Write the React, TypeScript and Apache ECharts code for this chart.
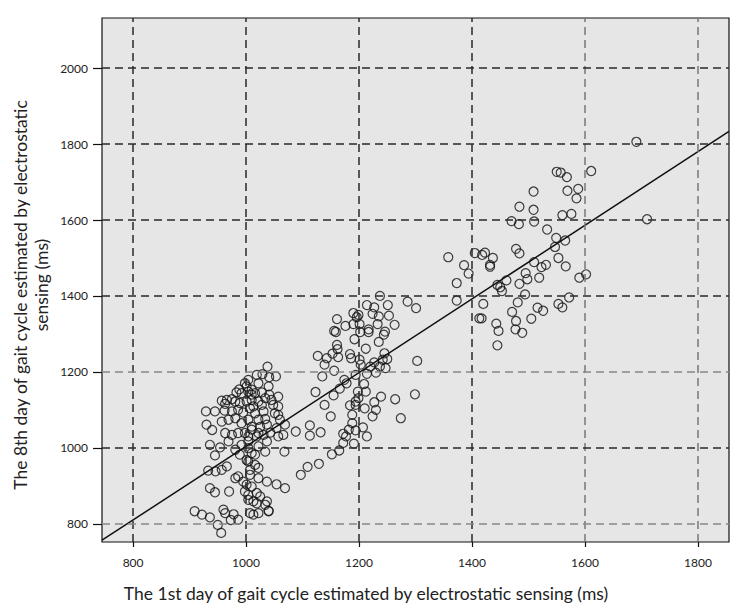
import React, { useEffect, useRef } from "react";
import * as echarts from "echarts";

const xTicks = [800, 1000, 1200, 1400, 1600, 1800];
const yTicks = [800, 1000, 1200, 1400, 1600, 1800, 2000];
const xRange = [745, 1855];
const yRange = [752, 2132];
const fitIntercept = 34;
const fitSlope = 0.97;

const leftCluster = [
  [1004,1179],[998,1170],[988,1154],[983,1146],[992,1144],[1004,1148],[1010,1140],[957,1124],[966,1126],[975,1128],
  [963,1116],[981,1122],[989,1118],[1001,1122],[929,1096],[945,1096],[962,1098],[975,1096],[986,1100],[995,1093],
  [1007,1104],[930,1061],[940,1047],[957,1069],[969,1074],[981,1078],[992,1065],[1004,1074],[963,1039],[975,1034],
  [986,1039],[998,1039],[1010,1048],
  [936,1008],[954,1001],[945,980],[969,1017],[981,995],[992,1008],[1004,1017],[1010,986],[989,982],[1001,968],
  [966,951],[957,942],[933,940],[946,938],[986,925],[981,920],[995,911],[1007,929],[936,894],[945,883],[970,885],
  [998,885],[1004,876],[1010,898],[909,833],[922,824],[936,817],[950,797],[956,776],[960,837],[963,828],[978,825],
  [986,811],[973,810],[1007,828],[1013,824],
  [1038,1214],[1019,1192],[1029,1194],[1041,1186],[1053,1188],[1001,1162],[1010,1153],[1022,1170],[1040,1162],
  [1016,1144],[1028,1146],[1041,1140],[1010,1126],[1022,1122],[1034,1131],[1045,1126],[1057,1135],[1013,1109],
  [1028,1113],[1048,1113],[1057,1109],[1016,1091],[1031,1096],[1051,1091],[1022,1074],[1034,1076],[1057,1087],
  [1060,1074],[1010,1056],[1025,1055],[1037,1061],[1054,1052],[1069,1061],[1022,1039],[1031,1034],[1043,1040],
  [1057,1030],[1066,1034],
  [1004,1030],[1019,1030],[1037,1017],[1004,999],[1022,1004],[1034,990],[1016,982],[1068,990],[1004,964],[1016,955],
  [1007,942],[1022,947],[1022,920],[1037,911],[1054,904],[1069,894],[1001,903],[1019,881],[1025,872],[1004,863],
  [1013,859],[1019,854],[1034,850],[1040,834],[1037,859],[1022,828],[1040,833]
];

const middleCluster = [
  [1237,1400],[1214,1376],[1227,1370],[1224,1353],[1251,1376],[1235,1346],[1286,1385],[1301,1368],[1190,1355],
  [1199,1350],[1196,1344],[1161,1339],[1176,1321],[1190,1326],[1201,1326],[1253,1348],[1263,1324],[1233,1326],
  [1217,1312],[1217,1305],[1202,1305],[1156,1308],[1159,1305],[1246,1306],[1244,1298],[1192,1286],[1235,1279],
  [1161,1271],[1162,1260],[1212,1261],[1127,1242],[1143,1236],[1139,1219],[1153,1248],[1163,1239],[1184,1247],
  [1186,1236],[1201,1232],[1203,1219],[1245,1249],[1250,1234],[1242,1232],[1247,1210],[1303,1229],[1227,1225],
  [1220,1214],[1237,1214],[1156,1203],[1135,1188],[1194,1192],[1214,1195],[1230,1198],[1174,1179],[1178,1170],
  [1166,1156],[1209,1168],[1123,1147],[1198,1148],[1212,1148],[1199,1131],[1155,1138],[1194,1122],[1184,1112],
  [1194,1113],[1239,1135],[1264,1128],[1299,1141],[1139,1113],[1210,1104],[1227,1120],[1230,1100],[1224,1083],
  [1188,1087],[1150,1083],[1274,1078],[1188,1065],[1207,1054],[1214,1030],[1113,1059],[1088,1043],[1113,1032],
  [1132,1041],[1182,1048],[1172,1037],[1177,1030],[1194,1046],[1172,1013],[1191,1011],[1165,993],[1152,983],
  [1129,958],[1109,950],[1097,929]
];

const rightCluster = [
  [1550,1727],[1557,1725],[1568,1713],[1611,1729],[1509,1675],[1569,1677],[1588,1682],[1585,1657],[1484,1635],
  [1509,1627],[1470,1597],[1483,1589],[1510,1596],[1560,1613],[1576,1616],[1533,1575],[1549,1553],[1565,1546],
  [1547,1529],[1478,1524],[1484,1512],[1358,1502],[1405,1513],[1418,1508],[1423,1514],[1437,1500],[1386,1481],
  [1394,1459],[1432,1482],[1432,1477],[1510,1489],[1523,1476],[1531,1482],[1553,1500],[1566,1478],[1495,1460],
  [1484,1432],[1498,1444],[1519,1448],[1461,1441],[1445,1429],[1450,1423],[1453,1413],[1373,1434],[1590,1448],
  [1602,1457],[1494,1404],[1373,1388],[1420,1379],[1413,1341],[1417,1341],[1481,1383],[1471,1358],[1516,1369],
  [1526,1361],[1553,1379],[1560,1370],[1572,1396],[1505,1340],[1443,1327],[1447,1308],[1478,1334],[1477,1312],
  [1489,1303],[1445,1270]
];

const outliers = [[1691,1806],[1710,1602]];

const xTitle = "The 1st day of gait cycle estimated by electrostatic sensing (ms)";
const yTitleLine1 = "The 8th day of gait cycle estimated by electrostatic";
const yTitleLine2 = "sensing (ms)";

const FONT = "Lato, 'Noto Sans', sans-serif";
const xGridColors = ["#2a2a2a", "#2a2a2a", "#2a2a2a", "#2a2a2a", "#777", "#777"];
const yGridColors = ["#888", "#2a2a2a", "#888", "#2a2a2a", "#2a2a2a", "#2a2a2a", "#2a2a2a"];

export default function App() {
  const ref = useRef<HTMLDivElement>(null);
  useEffect(() => {
    if (!ref.current) return;
    const chart = echarts.init(ref.current, null, { renderer: "svg" });
    const allPoints = [...leftCluster, ...middleCluster, ...rightCluster, ...outliers];
    const fitLine = [
      [xRange[0], fitIntercept + fitSlope * xRange[0]],
      [xRange[1], fitIntercept + fitSlope * xRange[1]],
    ];
    const gridLineStyle = { type: [8, 5], width: 1.5 };
    const plain = (v: number) => String(v);
    const titleStyle = { textAlign: "center", textVerticalAlign: "middle", fontSize: 17.5, fill: "#222", fontFamily: FONT };
    chart.setOption({
      animation: false,
      backgroundColor: "#ffffff",
      grid: {
        left: 102, right: 10, top: 18, bottom: 71,
        show: true, backgroundColor: "#e6e6e6", borderColor: "#111", borderWidth: 1.2,
      },
      xAxis: {
        type: "value", min: xRange[0], max: xRange[1],
        axisLine: { show: false },
        splitLine: { show: false },
        axisTick: { show: true, customValues: xTicks, length: 5, lineStyle: { color: "#111", width: 1.2 } },
        axisLabel: { customValues: xTicks, formatter: plain, margin: 14, fontSize: 12, color: "#222", fontFamily: FONT },
      },
      yAxis: {
        type: "value", min: yRange[0], max: yRange[1],
        axisLine: { show: false },
        splitLine: { show: false },
        axisTick: { show: true, customValues: yTicks, length: 9, lineStyle: { color: "#111", width: 1.2 } },
        axisLabel: { customValues: yTicks, formatter: plain, margin: 14, fontSize: 12, color: "#222", fontFamily: FONT },
      },
      graphic: [
        { type: "text", x: 366, y: 593, style: { text: xTitle, ...titleStyle } },
        { type: "text", x: 20, y: 295, rotation: Math.PI / 2, style: { text: yTitleLine1, ...titleStyle } },
        { type: "text", x: 41, y: 285, rotation: Math.PI / 2, style: { text: yTitleLine2, ...titleStyle } },
      ],
      series: [
        {
          type: "line", data: fitLine, symbol: "none", z: 2,
          lineStyle: { color: "#111", width: 1.5 },
          markLine: {
            silent: true, symbol: ["none", "none"], label: { show: false },
            lineStyle: gridLineStyle,
            data: [
              ...xTicks.map((v, i) => ({ xAxis: v, lineStyle: { color: xGridColors[i], ...gridLineStyle } })),
              ...yTicks.map((v, i) => ({ yAxis: v, lineStyle: { color: yGridColors[i], ...gridLineStyle } })),
            ],
          },
        },
        {
          type: "scatter", data: allPoints, symbol: "circle", symbolSize: 9, z: 3,
          itemStyle: { color: "rgba(0,0,0,0)", borderColor: "#111", borderWidth: 1.2 },
        },
      ],
    });
    return () => chart.dispose();
  }, []);
  return <div ref={ref} style={{ position: "absolute", left: 0, top: 0, width: 739, height: 613 }} />;
}
